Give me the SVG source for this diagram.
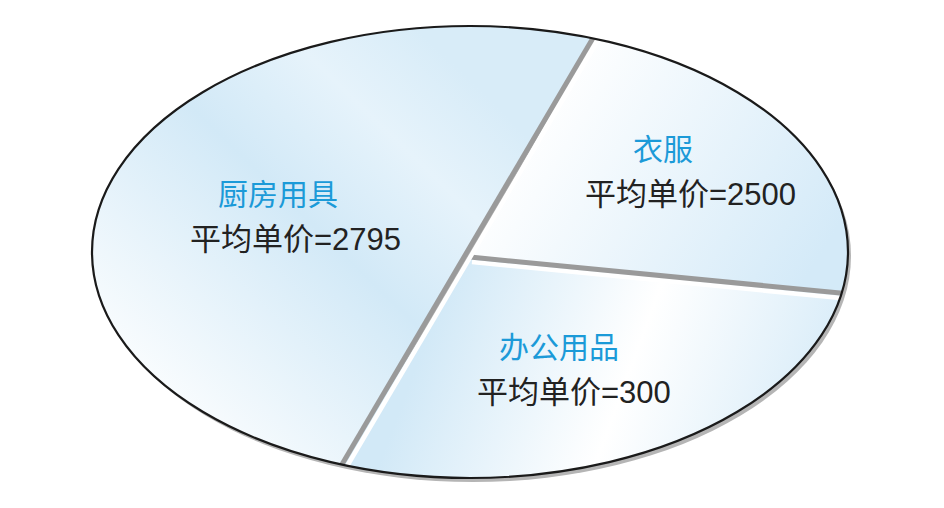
<svg xmlns="http://www.w3.org/2000/svg" width="944" height="508" viewBox="0 0 944 508">
<style>
.lbl{font-family:"Liberation Sans","Noto Sans CJK SC",sans-serif;font-size:30px;fill:#1b9ad8}
.val{font-family:"Liberation Sans","Noto Sans CJK SC",sans-serif;font-size:31px;fill:#222}
.div{stroke:#9a9a9a;stroke-width:5;fill:none}
.hl{stroke:#ffffff;stroke-width:4.5;fill:none}
</style>
<defs>
<clipPath id="ell"><ellipse cx="470" cy="252" rx="378" ry="226"/></clipPath>
<clipPath id="cL"><polygon points="0,0 615,0 316,508 0,508"/></clipPath>
<clipPath id="cTR"><polygon points="615,0 944,0 944,303 470,257"/></clipPath>
<clipPath id="cBR"><polygon points="470,257 944,303 944,508 316,508"/></clipPath>
<linearGradient id="gL" gradientUnits="userSpaceOnUse" x1="140" y1="420" x2="470" y2="80">
<stop offset="0" stop-color="#ffffff"/>
<stop offset="0.55" stop-color="#d2e9f7"/>
<stop offset="0.8" stop-color="#e6f3fb"/>
<stop offset="1" stop-color="#d8ecf8"/>
</linearGradient>
<linearGradient id="gTR" gradientUnits="userSpaceOnUse" x1="560" y1="70" x2="830" y2="240">
<stop offset="0" stop-color="#ffffff"/>
<stop offset="1" stop-color="#d4eaf8"/>
</linearGradient>
<linearGradient id="gBR" gradientUnits="userSpaceOnUse" x1="440" y1="300" x2="820" y2="440">
<stop offset="0" stop-color="#d2e9f7"/>
<stop offset="0.5" stop-color="#ffffff"/>
<stop offset="1" stop-color="#d6ebf8"/>
</linearGradient>
</defs>
<ellipse cx="473" cy="256" rx="378" ry="226" fill="#b5b5b5"/>
<g clip-path="url(#ell)">
<g id="kitchen-slice"><rect x="0" y="0" width="944" height="508" fill="url(#gL)" clip-path="url(#cL)"/></g>
<g id="clothes-slice"><rect x="0" y="0" width="944" height="508" fill="url(#gTR)" clip-path="url(#cTR)"/></g>
<g id="office-slice"><rect x="0" y="0" width="944" height="508" fill="url(#gBR)" clip-path="url(#cBR)"/></g>
<g id="connectors">
<line class="hl" x1="472" y1="262" x2="850" y2="299"/>
<line class="div" x1="470" y1="257" x2="850" y2="294"/>
<line class="hl" x1="598" y1="40" x2="346" y2="468"/>
<line class="div" x1="593" y1="38" x2="341" y2="466"/>
</g>
</g>
<ellipse cx="470" cy="252" rx="378" ry="226" fill="none" stroke="#1a1a1a" stroke-width="2.2"/>
<g id="kitchen">
<text class="lbl" x="218" y="205">厨房用具</text>
<text class="val" x="190" y="250">平均单价=2795</text>
</g>
<g id="clothes">
<text class="lbl" x="633" y="160">衣服</text>
<text class="val" x="585" y="205">平均单价=2500</text>
</g>
<g id="office">
<text class="lbl" x="499" y="358">办公用品</text>
<text class="val" x="477" y="403">平均单价=300</text>
</g>
</svg>
